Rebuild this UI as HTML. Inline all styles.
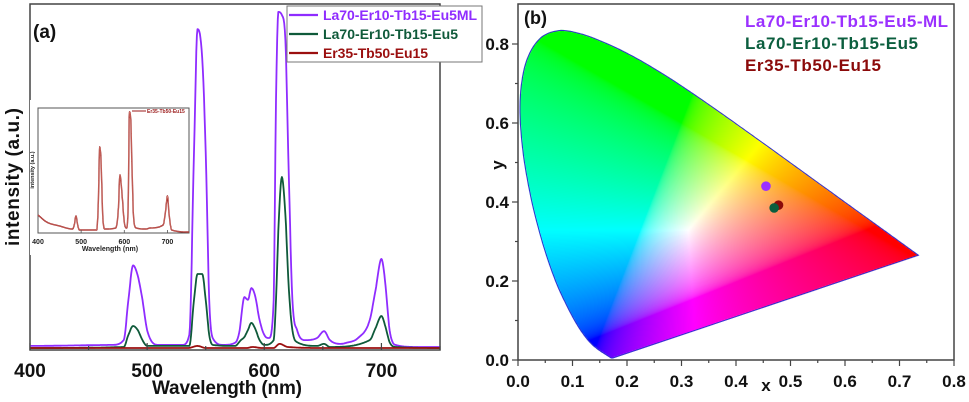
<!DOCTYPE html>
<html><head><meta charset="utf-8"><style>
html,body{margin:0;padding:0;background:#fff;width:969px;height:402px;overflow:hidden}
#wrap{position:relative;width:969px;height:402px}
svg{position:absolute;left:0;top:0}
canvas{position:absolute;left:0;top:0}
text{font-family:"Liberation Sans",Arial,sans-serif;font-weight:bold}
</style></head><body>
<div id="wrap">
<canvas id="cie" width="969" height="402"></canvas>
<svg id="svg" width="969" height="402"></svg>
</div>
<script>
// ---- Panel (a) data ----
const purpleWl=[400,470,480,484,488,492,496,500,510,530,536,540,543,547,550,553,556,565,575,579,580,583,586,589,592,596,600,604,608,610,612,615,618,621,624,628,635,645,651,656,665,670,680,690,695,700,703,707,712,730,750];
const purpleVal=[0.6,0.9,2.3,14,24,21,14,5.2,0.9,0.9,3.8,57,92.7,84.3,57,14,2.9,0.9,1.5,5.2,8.1,14.8,14,17.4,15.4,8.1,3.8,2.9,14,72,97.7,96.8,89.5,49,14,5.2,2.3,2.9,4.9,2.3,1.2,1.5,2.9,8.1,16.9,25.9,19.8,5.2,0.9,0.3,0.3];
const greenWl=[400,480,484,488,492,496,500,536,540,543,547,550,553,556,575,580,583,586,589,592,596,600,608,610,612,615,618,621,624,628,645,651,656,690,695,700,703,707,712,750];
const greenVal=[0,0.3,3.8,6.4,5.2,2.3,0.6,0.6,14,21.5,21.5,14,3.8,0.9,0.6,2.3,3.2,5.2,7.3,5.8,2.3,0.9,2.3,14,34,49.7,38.7,16.9,5.2,1.7,0.6,1.2,0.3,2.3,5.8,9.3,6.7,1.7,0.3,0];
const redWl=[400,535,543,550,585,590,598,608,613,620,650,750];
const redVal=[0,0,0.6,0,0,0.3,0,0,1.2,0.3,0,0];
// inset
const insetWl=[400,420,450,480,484,488,492,496,536,540,543,546,550,555,580,586,590,594,600,605,609,612,615,618,622,628,650,660,690,696,700,704,710,750];
const insetVal=[14.4,8.8,5.6,3.2,6.4,13.6,6.4,2.4,2.4,26.4,68.8,58.4,14.4,3.2,4,17.6,46.4,34.4,8.8,4,22.4,96.8,90.4,50.4,10.4,4,3.2,4,6.4,18.4,29.6,14.4,2.4,0.8];
const xTicksA=[400,500,600,700];
const insetTicks=[400,500,600,700];
// ---- Panel (b) data ----
const cieNames=["La70-Er10-Tb15-Eu5-ML","La70-Er10-Tb15-Eu5","Er35-Tb50-Eu15"];
const cieX=[0.455,0.470,0.478];
const cieY=[0.440,0.385,0.392];
const cieColors=["#9b30ff","#0b5e3e","#8b0a0a"];
const xTicksB=[0.0,0.1,0.2,0.3,0.4,0.5,0.6,0.7,0.8];
const yTicksB=[0.0,0.2,0.4,0.6,0.8];
const locus=[[0.1741,0.0050],[0.1714,0.0051],[0.1689,0.0069],[0.1644,0.0109],[0.1566,0.0177],[0.1510,0.0227],[0.1440,0.0297],[0.1355,0.0399],[0.1241,0.0578],[0.1096,0.0868],[0.0913,0.1327],[0.0687,0.2007],[0.0454,0.2950],[0.0235,0.4127],[0.0082,0.5384],[0.0039,0.6548],[0.0139,0.7502],[0.0389,0.8120],[0.0743,0.8338],[0.1142,0.8262],[0.1547,0.8059],[0.1929,0.7816],[0.2296,0.7543],[0.2658,0.7243],[0.3016,0.6923],[0.3373,0.6589],[0.3731,0.6245],[0.4087,0.5896],[0.4441,0.5547],[0.4788,0.5202],[0.5125,0.4866],[0.5448,0.4544],[0.5752,0.4242],[0.6029,0.3965],[0.6270,0.3725],[0.6658,0.3340],[0.6915,0.3083],[0.7079,0.2920],[0.7190,0.2809],[0.7347,0.2653]];

const NS="http://www.w3.org/2000/svg";
const svg=document.getElementById('svg');
function mk(tag,attrs,parent,txt){const e=document.createElementNS(NS,tag);for(const k in attrs)e.setAttribute(k,attrs[k]);if(txt!==undefined)e.textContent=txt;(parent||svg).appendChild(e);return e;}

const ax=wl=>30+(wl-400)*(410/350);
const ay=v=>348-v*3.44;
const ix=wl=>38+(wl-400)*(151/350);
const iy=v=>233-v*1.25;
const bx=x=>518+x*545;
const by=y=>360-y*395;

function monoPath(xs,ys,fx,fy){
 const n=xs.length,m=new Array(n),dl=[];
 for(let i=0;i<n-1;i++)dl.push((ys[i+1]-ys[i])/(xs[i+1]-xs[i]));
 m[0]=dl[0];m[n-1]=dl[n-2];
 for(let i=1;i<n-1;i++){m[i]=(dl[i-1]*dl[i]<=0)?0:(dl[i-1]+dl[i])/2;}
 for(let i=0;i<n-1;i++){if(dl[i]===0){m[i]=0;m[i+1]=0;continue;}const a=m[i]/dl[i],b=m[i+1]/dl[i],s=a*a+b*b;if(s>9){const t=3/Math.sqrt(s);m[i]=t*a*dl[i];m[i+1]=t*b*dl[i];}}
 let d='M'+fx(xs[0]).toFixed(1)+' '+fy(ys[0]).toFixed(1);
 for(let i=0;i<n-1;i++){const h=xs[i+1]-xs[i];const steps=Math.max(2,Math.ceil(h*2));
  for(let k=1;k<=steps;k++){const t=k/steps,t2=t*t,t3=t2*t;
   const v=(2*t3-3*t2+1)*ys[i]+(t3-2*t2+t)*h*m[i]+(-2*t3+3*t2)*ys[i+1]+(t3-t2)*h*m[i+1];
   d+='L'+fx(xs[i]+t*h).toFixed(1)+' '+fy(v).toFixed(1);}}
 return d;}
function smoothLocus(pts){const out=[];for(let i=0;i<pts.length-1;i++){const p0=pts[Math.max(0,i-1)],p1=pts[i],p2=pts[i+1],p3=pts[Math.min(pts.length-1,i+2)];
 for(let k=0;k<8;k++){const t=k/8,t2=t*t,t3=t2*t;const f=(a,b,c,d)=>0.5*((2*b)+(-a+c)*t+(2*a-5*b+4*c-d)*t2+(-a+3*b-3*c+d)*t3);
  out.push([f(p0[0],p1[0],p2[0],p3[0]),f(p0[1],p1[1],p2[1],p3[1])]);}}
 out.push(pts[pts.length-1]);return out;}

let e;
e=mk('rect',{x:30,y:4,width:410,height:346,fill:'none',stroke:'#444','stroke-width':1.5});

function line(wls,vals,fx,fy,color,w,name,parent){
 const p=mk('path',{d:monoPath(wls,vals,fx,fy),fill:'none',stroke:color,'stroke-width':w,'stroke-linejoin':'round'},parent);
 return p;}
line(purpleWl,purpleVal,ax,ay,'#8f2cff',1.8,'series-la70-er10-tb15-eu5ml');
line(greenWl,greenVal,ax,ay,'#0f5a3a',1.8,'series-la70-er10-tb15-eu5');
line(redWl,redVal,ax,ay,'#9b0f0f',1.8,'series-er35-tb50-eu15');
for(let t=400;t<=750;t+=50){e=mk('line',{x1:ax(t),x2:ax(t),y1:350,y2:t%100===0?343:346,stroke:'#444','stroke-width':1.2});}
xTicksA.forEach(t=>{e=mk('text',{x:ax(t),y:377,'font-size':19,'text-anchor':'middle',fill:'#111'},svg,String(t));});
e=mk('text',{x:227,y:394,'font-size':19,'text-anchor':'middle',fill:'#111',textLength:150},svg,'Wavelength (nm)');
e=mk('text',{x:0,y:0,'font-size':19,'text-anchor':'middle',fill:'#111',transform:'translate(19,177) rotate(-90)',textLength:138},svg,'intensity (a.u.)');
e=mk('text',{x:33,y:38,'font-size':19,fill:'#111'},svg,'(a)');
const lg=mk('g',{});
mk('rect',{x:287,y:6,width:195,height:56,fill:'#fff',stroke:'#777','stroke-width':1},lg);
const legA=[['La70-Er10-Tb15-Eu5ML','#8f2cff',154],['La70-Er10-Tb15-Eu5','#0f5a3a',135],['Er35-Tb50-Eu15','#9b0f0f',105]];
legA.forEach((l,i)=>{const yy=15+i*19;
 e=mk('line',{x1:289,x2:318,y1:yy,y2:yy,stroke:l[1],'stroke-width':2.2},lg);
 e=mk('text',{x:323,y:yy+5,'font-size':14,fill:l[1],textLength:l[2]},lg,l[0]);});
// inset
const ig=mk('g',{});
mk('rect',{x:30,y:100,width:160,height:155,fill:'#fff',stroke:'none'},ig);
mk('rect',{x:38,y:108,width:151,height:125,fill:'none',stroke:'#555','stroke-width':1},ig);
line(insetWl,insetVal,ix,iy,'#9b1a1a',1.4,'inset-series-er35-tb50-eu15',ig);
mk('path',{d:monoPath(insetWl,insetVal,ix,iy),fill:'none',stroke:'#e8a090','stroke-width':0.5},ig);
insetTicks.forEach(t=>{mk('line',{x1:ix(t),x2:ix(t),y1:233,y2:230,stroke:'#555','stroke-width':0.8},ig);
 e=mk('text',{x:ix(t),y:244,'font-size':7,'text-anchor':'middle',fill:'#222'},ig,String(t));});
e=mk('text',{x:110,y:251,'font-size':7,'text-anchor':'middle',fill:'#222'},ig,'Wavelength (nm)');
e=mk('text',{x:0,y:0,'font-size':5.5,'text-anchor':'middle',fill:'#222',transform:'translate(34,170) rotate(-90)'},ig,'intensity (a.u.)');
mk('line',{x1:132,x2:146,y1:111,y2:111,stroke:'#9b1a1a','stroke-width':1},ig);
e=mk('text',{x:147,y:113,'font-size':5,fill:'#9b1a1a'},ig,'Er35-Tb50-Eu15');

// ---------- Panel B ----------
const sl=smoothLocus(locus);
const cv=document.getElementById('cie');const ctx=cv.getContext('2d');
ctx.beginPath();sl.forEach((p,i)=>{i?ctx.lineTo(bx(p[0]),by(p[1])):ctx.moveTo(bx(p[0]),by(p[1]));});ctx.closePath();
const img=ctx.createImageData(969,402);
function g(c){c=Math.max(0,c);return c<=0.0031308?12.92*c:1.055*Math.pow(c,1/2.4)-0.055;}
for(let py=0;py<402;py++)for(let px=500;px<969;px++){
 if(!ctx.isPointInPath(px+0.5,py+0.5))continue;
 const x=(px+0.5-518)/545,y=(360-py-0.5)/395;if(y<=0.001)continue;
 const X=x/y,Y=1,Z=(1-x-y)/y;
 let r=3.2406*X-1.5372*Y-0.4986*Z,gg=-0.9689*X+1.8758*Y+0.0415*Z,b=0.0557*X-0.2040*Y+1.0570*Z;
 r=Math.max(0,r);gg=Math.max(0,gg);b=Math.max(0,b);const m=Math.max(r,gg,b)||1;
 const k=(py*969+px)*4;img.data[k]=255*g(r/m);img.data[k+1]=255*g(gg/m);img.data[k+2]=255*g(b/m);img.data[k+3]=255;}
ctx.putImageData(img,0,0);
let ld='';sl.forEach((p,i)=>{ld+=(i?'L':'M')+bx(p[0]).toFixed(1)+' '+by(p[1]).toFixed(1);});ld+='Z';
e=mk('path',{d:ld,fill:'none',stroke:'#3030d0','stroke-width':1});
e=mk('rect',{x:518,y:4,width:436,height:356,fill:'none',stroke:'#444','stroke-width':1.5});
for(let i=0;i<=16;i++){const t=i*0.05;e=mk('line',{x1:bx(t),x2:bx(t),y1:360,y2:i%2?363:366,stroke:'#444','stroke-width':1.2});}
for(let i=0;i<=8;i++){const t=i*0.1;e=mk('line',{x1:518,x2:i%2?515:512,y1:by(t),y2:by(t),stroke:'#444','stroke-width':1.2});}
xTicksB.forEach(t=>{e=mk('text',{x:bx(t),y:387,'font-size':17,'text-anchor':'middle',fill:'#111'},svg,t.toFixed(1));});
yTicksB.forEach(t=>{e=mk('text',{x:509,y:by(t)+6,'font-size':17,'text-anchor':'end',fill:'#111'},svg,t.toFixed(1));});
e=mk('text',{x:766,y:391,'font-size':17,'text-anchor':'middle',fill:'#111'},svg,'x');
e=mk('text',{x:0,y:0,'font-size':17,'text-anchor':'middle',fill:'#111',transform:'translate(503,165) rotate(-90)'},svg,'y');
e=mk('text',{x:524,y:24,'font-size':18,fill:'#111'},svg,'(b)');
const legW=[203,173,136];
cieNames.forEach((n,i)=>{e=mk('text',{x:745,y:27+i*22,'font-size':17,fill:cieColors[i],textLength:legW[i]},svg,n);});
[2,0,1].forEach(i=>{e=mk('circle',{cx:bx(cieX[i]),cy:by(cieY[i]),r:4.8,fill:cieColors[i]});});
</script>
</body></html>
